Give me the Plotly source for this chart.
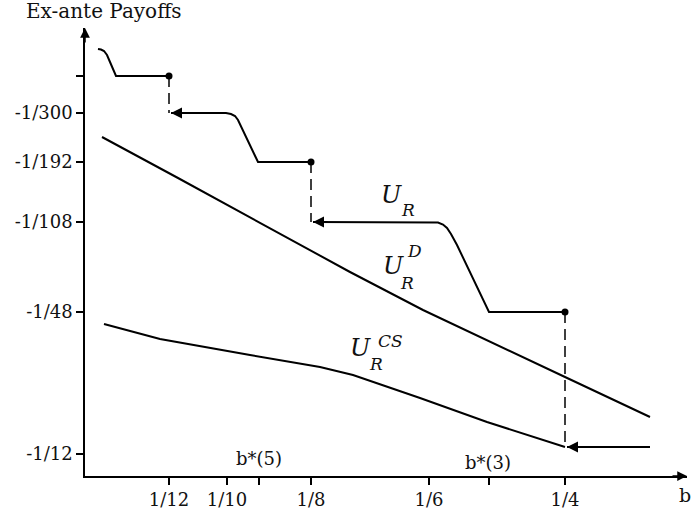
import plotly.graph_objects as go

# Schematic coordinates (x: position along b-axis, y: position along payoff axis)
X_MAX, Y_MAX = 602, 448
x_tickvals = [84, 142, 174, 226, 344, 404, 480]
x_ticktext = ["1/12", "1/10", "", "1/8", "1/6", "", "1/4"]
y_tickvals = [22, 164, 254, 314, 363, 400]
y_ticktext = ["-1/12", "-1/48", "-1/108", "-1/192", "-1/300", ""]

# U_R : stepped payoff curve, in pieces
ur1_x = [13, 16, 19, 22, 25, 28, 31, 84]
ur1_y = [427, 426.5, 425, 421, 414, 407, 400, 400]
ur2_x = [86, 141, 146, 150, 153, 173, 226]
ur2_y = [363, 363, 362, 360, 356, 314, 314]
ur3_x = [228, 348, 353, 358, 362, 366, 372, 404, 480]
ur3_y = [254, 254, 253.5, 251.5, 248, 242, 231, 164, 164]
ur4_x = [482, 565]
ur4_y = [29, 29]

# jumps (dashed)
jump_x = [84, 226, 480]
jump_top = [400, 314, 164]
jump_bot = [363, 254, 29]

# U_R^D
urd_x = [17, 93, 265, 338, 480, 565]
urd_y = [339, 298, 204, 166, 99, 59]

# U_R^CS
urcs_x = [19, 75, 165, 235, 268, 335, 402, 480]
urcs_y = [152, 137, 121, 109, 101, 78, 54, 29]

BLACK = "#000000"
TXT = "#111111"
SERIF = "DejaVu Serif"

fig = go.Figure()

line_style = dict(color=BLACK, width=2)
for xs, ys in [(ur1_x, ur1_y), (ur2_x, ur2_y), (ur3_x, ur3_y), (ur4_x, ur4_y),
               (urd_x, urd_y), (urcs_x, urcs_y)]:
    fig.add_trace(go.Scatter(x=xs, y=ys, mode="lines", line=line_style,
                             hoverinfo="skip", showlegend=False))

for jx, jt, jb in zip(jump_x, jump_top, jump_bot):
    fig.add_trace(go.Scatter(x=[jx, jx], y=[jt, jb], mode="lines",
                             line=dict(color=BLACK, width=1.5, dash="11px,6px"),
                             hoverinfo="skip", showlegend=False))

# dots at the end of flat pieces
fig.add_trace(go.Scatter(x=jump_x, y=jump_top, mode="markers",
                         marker=dict(color=BLACK, size=7),
                         hoverinfo="skip", showlegend=False))

annotations = []
# arrowheads on the curve pieces (pointing left)
for xs, ys in [(ur2_x, ur2_y), (ur3_x, ur3_y), (ur4_x, ur4_y)]:
    annotations.append(dict(x=xs[0], y=ys[0], xref="x", yref="y", ax=16, ay=0,
                            showarrow=True, arrowhead=2, arrowsize=1.1,
                            arrowwidth=2, arrowcolor=BLACK, text=""))
# axis arrows
annotations.append(dict(x=X_MAX, y=0, xref="x", yref="y", ax=-16, ay=0,
                        showarrow=True, arrowhead=2, arrowsize=1.3,
                        arrowwidth=1.5, arrowcolor=BLACK, text=""))
annotations.append(dict(x=0, y=Y_MAX, xref="x", yref="y", ax=0, ay=16,
                        showarrow=True, arrowhead=2, arrowsize=1.3,
                        arrowwidth=1.5, arrowcolor=BLACK, text=""))

def txt(x, y, s, size, italic=False, family=SERIF):
    if italic:
        s = "<i>" + s + "</i>"
    annotations.append(dict(x=x / X_MAX, y=y / Y_MAX, xref="paper", yref="paper",
                            text=s, showarrow=False,
                            xanchor="center", yanchor="middle",
                            font=dict(family=family, size=size, color=TXT)))

# curve labels
txt(306, 281, "U", 24, True)
txt(323, 266, "R", 17, True)
txt(308, 210, "U", 24, True)
txt(329, 225, "D", 17, True)
txt(322, 193, "R", 17, True)
txt(275, 128, "U", 24, True)
txt(305, 135, "CS", 17, True)
txt(291, 112, "R", 17, True)

txt(174, 18, "b*(5)", 18)
txt(403, 14, "b*(3)", 18)
txt(600, -19, "b", 19)
txt(19, 465, "Ex-ante Payoffs", 20)

fig.update_layout(
    width=691, height=514,
    margin=dict(l=85, r=4, t=28, b=38, autoexpand=False),
    paper_bgcolor="white", plot_bgcolor="white",
    showlegend=False,
    annotations=annotations,
    xaxis=dict(range=[0, X_MAX], showgrid=False, zeroline=False, automargin=False,
               showline=True, linecolor=BLACK, linewidth=1.5,
               ticks="outside", ticklen=7, tickwidth=1.5, tickcolor=BLACK,
               tickvals=x_tickvals, ticktext=x_ticktext,
               tickfont=dict(family=SERIF, size=18, color=TXT)),
    yaxis=dict(range=[0, Y_MAX], showgrid=False, zeroline=False, automargin=False,
               showline=True, linecolor=BLACK, linewidth=1.5,
               ticks="outside", ticklen=7, tickwidth=1.5, tickcolor=BLACK,
               tickvals=y_tickvals, ticktext=y_ticktext,
               tickfont=dict(family=SERIF, size=18, color=TXT)),
)

# remove the default page margin so the figure fills the window exactly
fig.write_html("out.html", config={"displayModeBar": False},
               post_script="document.body.style.margin='0px';document.body.style.overflow='hidden';")
